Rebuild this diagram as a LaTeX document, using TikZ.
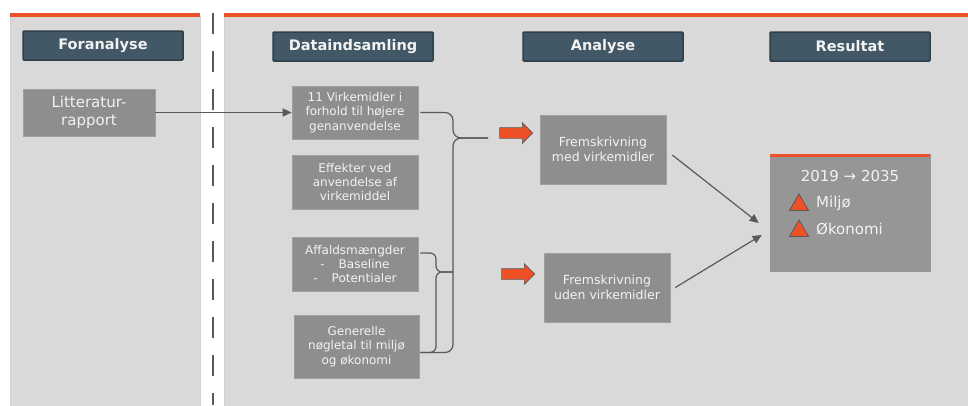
\documentclass[tikz,border=0pt]{standalone}
\usepackage{fontspec}
\setmainfont{DejaVu Sans}
\usetikzlibrary{shapes.geometric, shapes.arrows, arrows.meta}

\definecolor{panel}{HTML}{D9D9D9}
\definecolor{hdrfill}{HTML}{435866}
\definecolor{hdrline}{HTML}{2F3F4A}
\definecolor{boxg}{HTML}{8E8E8E}
\definecolor{resg}{HTML}{969696}
\definecolor{accent}{HTML}{EE5125}
\definecolor{linec}{HTML}{595959}
\definecolor{txt}{HTML}{F2F2F2}

\begin{document}
\begin{tikzpicture}[x=1pt, y=-1pt,
    hd/.style={rectangle, draw=hdrline, line width=1.5pt, fill=hdrfill, rounded corners=1pt,
      minimum width=160pt, minimum height=29pt, inner sep=0pt, text=txt,
      font=\bfseries\fontsize{14.5}{16}\selectfont},
    bx/.style={rectangle, fill=boxg, draw=boxg!85!white, line width=0.6pt, text=txt,
      align=center, inner sep=0pt},
    sm/.style={bx, minimum width=126pt, minimum height=53pt, font=\fontsize{12}{14.2}\selectfont},
    fr/.style={bx, minimum width=126pt, minimum height=69pt, font=\fontsize{12.5}{14.5}\selectfont},
    redarr/.style={single arrow, fill=accent, draw=linec, line width=0.6pt, minimum height=33pt,
      single arrow head extend=5pt, inner sep=5pt, text width=0pt},
    tri/.style={regular polygon, regular polygon sides=3, fill=accent, draw=linec, line width=0.8pt,
      minimum size=22pt, inner sep=0pt},
    conn/.style={draw=linec, line width=1.2pt, -{Triangle[length=9pt, width=8pt]}},
    brc/.style={draw=linec, line width=1.2pt, rounded corners=8pt}]

  % panels
  \useasboundingbox (0,0) rectangle (968,405);
  \filldraw[fill=panel, draw=black!18, line width=0.8pt] (10,16) rectangle (200,406);
  \filldraw[fill=panel, draw=black!18, line width=0.8pt] (224,16) rectangle (969,406);
  \fill[accent] (10,13) rectangle (200,16.5);
  \fill[accent] (224,13) rectangle (968,16.5);
  \draw[linec, line width=2pt, dash pattern=on 21pt off 17pt] (213,13) -- (213,405);

  % headers
  \node[hd] (hfor) at (103,45.5) {Foranalyse};
  \node[hd] (hdat) at (353,46.5) {Dataindsamling};
  \node[hd] (hana) at (603,46.5) {Analyse};
  \node[hd] (hres) at (850,46.5) {Resultat};

  % foranalyse
  \node[bx, minimum width=132pt, minimum height=47pt, font=\fontsize{15}{17.5}\selectfont]
    (lit) at (89,112.5) {Litteratur-\\rapport};

  % dataindsamling
  \node[sm] (vm) at (355,112.5) {11 Virkemidler i\\forhold til højere\\genanvendelse};
  \node[sm, minimum height=54pt] (eff) at (355,182) {Effekter ved\\anvendelse af\\virkemiddel};
  \node[sm, minimum height=54pt] (aff) at (355,264)
    {Affaldsmængder\\-\hspace{14pt}Baseline\\-\hspace{14pt}Potentialer};
  \node[sm, minimum width=125pt, minimum height=63pt] (gen) at (356.5,346.5)
    {Generelle\\nøgletal til miljø\\og økonomi};

  \draw[conn] (lit) -- (vm);

  % braces
  \coordinate (tipA) at (488,138);
  \coordinate (tipB) at (453,272);
  \draw[brc] ([xshift=2pt]vm.east) -| (453,138) -- (tipA);
  \draw[brc] (tipA) -- (453,138) |- ([shift={(1pt,-6pt)}]gen.east);
  \draw[brc, rounded corners=6pt] ([shift={(2pt,11pt)}]aff.east) -| (436,272) -- (tipB);
  \draw[brc, rounded corners=6pt] (tipB) -- (436,272) |- ([shift={(1pt,-6pt)}]gen.east);

  % analyse
  \node[redarr] (ra) at (513.5,133) {};
  \node[redarr] (rb) at (515.5,274) {};
  \node[fr] (fm) at (603,149.5) {Fremskrivning\\med virkemidler};
  \node[fr] (fu) at (607,287.5) {Fremskrivning\\uden virkemidler};

  % resultat
  \node[bx, fill=resg, draw=resg, minimum width=160pt, minimum height=117pt] (res) at (850,212.5) {};
  \draw[accent, line width=3pt] ([yshift=-1.5pt]res.north west) -- ([yshift=-1.5pt]res.north east);
  \node[text=txt, font=\fontsize{15}{17}\selectfont] (yrs) at (850,176) {2019 → 2035};
  \node[tri] (t1) at (799,205) {};
  \node[tri] (t2) at (799,231) {};
  \node[text=txt, anchor=west, inner sep=0pt, font=\fontsize{15}{17}\selectfont] (mil) at (816,203) {Miljø};
  \node[text=txt, anchor=west, inner sep=0pt, font=\fontsize{15}{17}\selectfont] (oko) at (816,229) {Økonomi};

  \draw[conn] ([shift={(6pt,-5.5pt)}]fm.east) -- ([shift={(-11pt,-10.5pt)}]res.west);
  \draw[conn] ([shift={(5pt,0pt)}]fu.east) -- ([shift={(-8pt,-22.5pt)}]res.west);
\end{tikzpicture}
\end{document}
